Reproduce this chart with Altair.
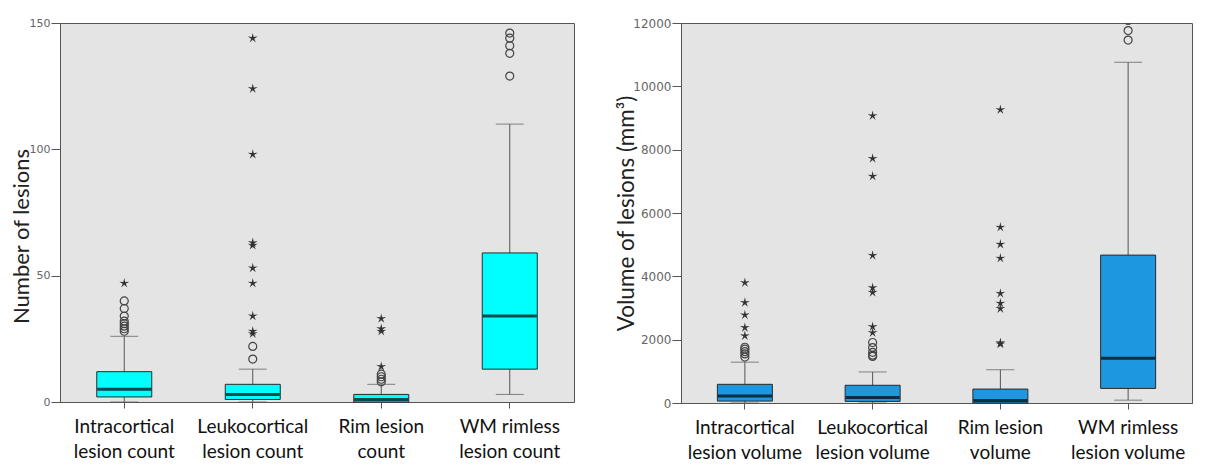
import altair as alt
import pandas as pd

# ---------------- data ----------------
count_cats = ["Intracortical|lesion count", "Leukocortical|lesion count",
              "Rim lesion|count", "WM rimless|lesion count"]
count_lo = [0, 0, 0, 3]
count_q1 = [2, 1, 0, 13]
count_med = [5, 3, 1, 34]
count_q3 = [12, 7, 3, 59]
count_hi = [26, 13, 7, 110]
count_circles = [[28, 29, 30, 31, 32, 34, 37, 40], [17, 22], [8, 9, 10, 11], [129, 138, 141, 144, 146]]
count_stars = [[47], [27, 28, 34, 47, 53, 62, 63, 98, 124, 144], [14, 28, 29, 33], []]

vol_cats = ["Intracortical|lesion volume", "Leukocortical|lesion volume",
            "Rim lesion|volume", "WM rimless|lesion volume"]
vol_lo = [0, 0, 0, 90]
vol_q1 = [60, 50, 0, 460]
vol_med = [220, 170, 80, 1410]
vol_q3 = [590, 560, 440, 4670]
vol_hi = [1290, 980, 1050, 10760]
vol_circles = [[1450, 1550, 1620, 1700, 1760], [1470, 1510, 1600, 1750, 1910], [], [11460, 11760, 12080]]
vol_stars = [[2120, 2380, 2780, 3170, 3800], [2220, 2410, 3490, 3640, 4660, 7160, 7720, 9070],
             [1860, 1900, 2980, 3150, 3460, 4570, 5010, 5550, 9260], []]

STAR = ("M0,-1L0.176,-0.243L0.951,-0.309L0.285,0.093L0.588,0.809L0,0.3"
        "L-0.588,0.809L-0.285,0.093L-0.951,-0.309L-0.176,-0.243Z")


def panel(cats, lo, q1, med, q3, hi, circles, stars, fill, ytitle, title_size, title_pad, title_y,
          ymax, ystep, width, height, lab_size):
    stats = pd.DataFrame({"cat": cats, "lo": lo, "q1": q1, "med": med, "q3": q3, "hi": hi})
    circ = pd.DataFrame([{"cat": c, "v": v} for c, vs in zip(cats, circles) for v in vs])
    star = pd.DataFrame([{"cat": c, "v": v} for c, vs in zip(cats, stars) for v in vs])

    x = alt.X("cat:N", sort=cats, title=None,
              scale=alt.Scale(paddingInner=0, paddingOuter=0),
              axis=alt.Axis(labelExpr="split(datum.value, '|')", labelAngle=0,
                            labelFont="Lato", labelFontSize=19, labelColor="#111",
                            labelLineHeight=25, labelPadding=9, labelBaseline="top",
                            tickSize=6, tickColor="#555", domainColor="#555",
                            labelAlign="center"))
    yscale = alt.Scale(domain=[0, ymax], nice=False, zero=True)
    yaxis = alt.Axis(title=ytitle, values=list(range(0, ymax + 1, ystep)), grid=False, format="d",
                     labelFont="DejaVu Sans", labelFontSize=lab_size, labelColor="#666",
                     labelPadding=1, tickSize=9, tickColor="#555", domainColor="#555",
                     titleFont="Lato", titleFontSize=title_size, titleFontWeight="normal",
                     titleColor="#222", titlePadding=title_pad, titleY=title_y)

    base = alt.Chart(stats)
    whisk = base.mark_rule(color="#555", strokeWidth=1).encode(
        x=x, y=alt.Y("lo:Q", scale=yscale, axis=yaxis), y2="hi:Q")
    cap_lo = base.mark_tick(color="#555", thickness=1, size=28).encode(x=x, y=alt.Y("lo:Q", scale=yscale))
    cap_hi = base.mark_tick(color="#555", thickness=1, size=28).encode(x=x, y=alt.Y("hi:Q", scale=yscale))
    box = base.mark_bar(size=55, color=fill, stroke="#2a2a2a", strokeWidth=1).encode(
        x=x, y=alt.Y("q1:Q", scale=yscale), y2="q3:Q")
    medl = base.mark_tick(color="#000", thickness=3, size=54).encode(x=x, y=alt.Y("med:Q", scale=yscale))
    layers = [whisk, cap_lo, cap_hi, box, medl]
    if len(circ):
        layers.append(alt.Chart(circ).mark_point(shape="circle", filled=False, size=64, color="#444",
                                                 strokeWidth=1.2, opacity=1, clip=True).encode(
            x=x, y=alt.Y("v:Q", scale=yscale)))
    if len(star):
        layers.append(alt.Chart(star).mark_point(shape=STAR, filled=True, size=110, color="#333",
                                                 opacity=1).encode(
            x=x, y=alt.Y("v:Q", scale=yscale)))
    return alt.layer(*layers).properties(width=width, height=height)


left = panel(count_cats, count_lo, count_q1, count_med, count_q3, count_hi, count_circles, count_stars,
             "#00FFFF", "Number of lesions", 22, -4, 213, 150, 50, 514, 379, 11)
right = panel(vol_cats, vol_lo, vol_q1, vol_med, vol_q3, vol_hi, vol_circles, vol_stars,
              "#1E97E1", "Volume of lesions (mm³)", 22.5, -6, 190, 12000, 2000, 511, 380, 12)

chart = alt.hconcat(left, right, spacing=40).properties(
    padding={"left": 9, "top": 16, "right": 26, "bottom": 0},
    background="white",
).configure_view(fill="#E4E4E4", stroke="#555", strokeWidth=1)

chart.save("out.html", embed_options={"renderer": "svg", "actions": False})
